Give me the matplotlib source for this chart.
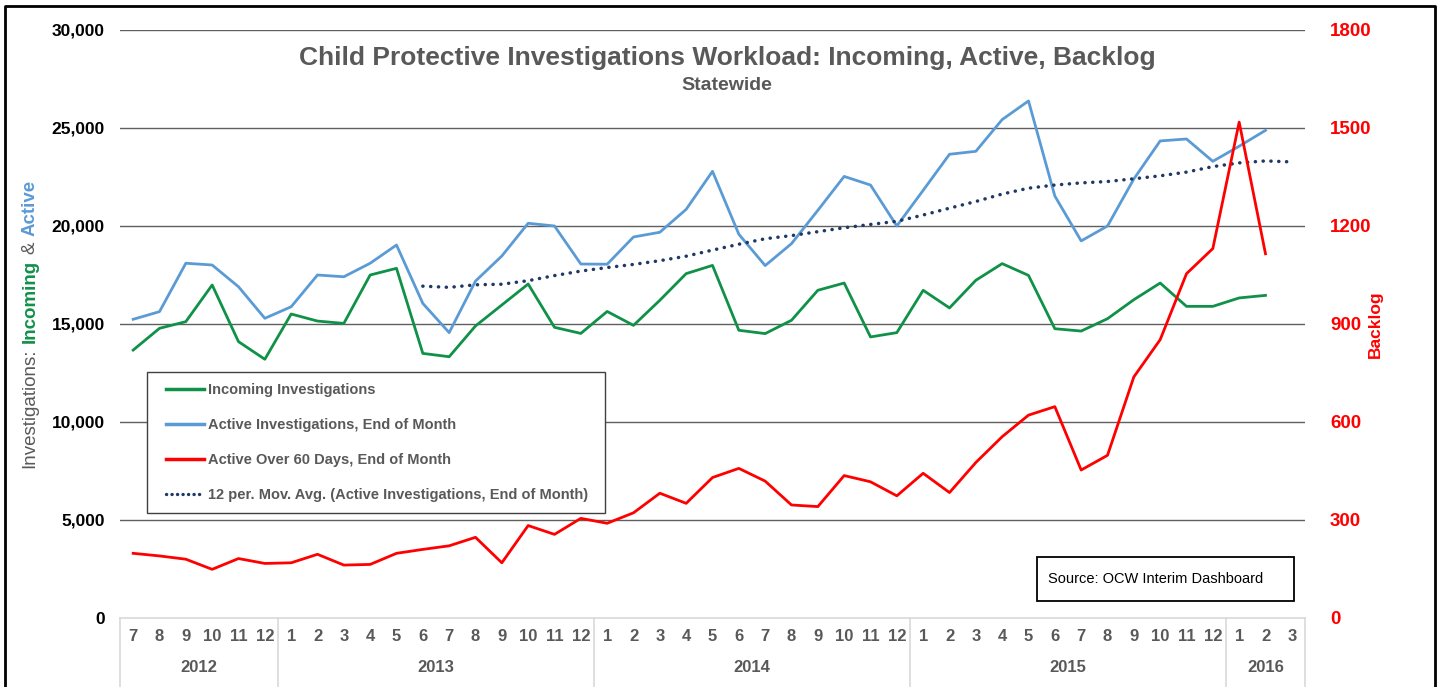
import matplotlib
matplotlib.use('Agg')
import numpy as np
import matplotlib.pyplot as plt
from matplotlib.lines import Line2D
from matplotlib.patches import Rectangle
from matplotlib.legend_handler import HandlerLine2D
import matplotlib.transforms as mtransforms
from matplotlib.ticker import FuncFormatter

plt.rcParams['font.family'] = ['Liberation Sans', 'DejaVu Sans']

# ---------------- data ----------------
years = ['2012', '2013', '2014', '2015', '2016']
months_per_year = [6, 12, 12, 12, 3]
months = [7, 8, 9, 10, 11, 12] + list(range(1, 13)) * 3 + [1, 2, 3]

incoming = [13670, 14780, 15120, 16990, 14100, 13200,
            15510, 15150, 15030, 17500, 17840, 13500, 13330, 14900, 15970, 17040, 14830, 14520,
            15640, 14930, 16210, 17570, 17990, 14680, 14510, 15190, 16720, 17090, 14340, 14560,
            16720, 15820, 17230, 18080, 17480, 14760, 14640, 15270, 16240, 17090, 15900, 15900,
            16330, 16460]

active = [15240, 15630, 18100, 18010, 16900, 15290,
          15880, 17500, 17410, 18100, 19030, 16050, 14560, 17190, 18470, 20140, 20000, 18060,
          18050, 19440, 19680, 20850, 22790, 19580, 17980, 19100, 20800, 22530, 22090, 20000,
          21820, 23660, 23810, 25430, 26380, 21530, 19240, 20000, 22400, 24340, 24440, 23300,
          24070, 24880]

backlog = [198, 190, 180, 149, 182, 167,
           169, 195, 162, 164, 198, 210, 221, 247, 169, 283, 256, 305,
           290, 322, 382, 351, 430, 458, 419, 346, 341, 436, 417, 374,
           443, 384, 476, 555, 621, 647, 453, 498, 738, 852, 1054, 1131,
           1518, 1115]

# 12 per. moving average (starts at 2013-6, runs to 2016-3)
mov_avg_start = 11
mov_avg = [16930, 16870, 17000, 17030, 17210, 17470, 17700,
           17880, 18040, 18230, 18460, 18770, 19070, 19350, 19510, 19710, 19910, 20080, 20240,
           20560, 20910, 21250, 21630, 21930, 22090, 22200, 22270, 22410, 22560, 22750, 23030,
           23220, 23320, 23270]

legend_labels = ['Incoming Investigations',
                 'Active Investigations, End of Month',
                 'Active Over 60 Days, End of Month',
                 '12 per. Mov. Avg. (Active Investigations, End of Month)']

# ---------------- styling ----------------
GREEN = '#109148'
BLUE = '#5B9BD5'
RED = '#FF0000'
NAVY = '#1F3864'
GRAY = '#595959'
W, H = 1440, 687

fig = plt.figure(figsize=(W / 100, H / 100), dpi=100)
fig.patch.set_facecolor('white')

L, R, T, B = 120, 1305, 30, 618
ax = fig.add_axes([L / W, (H - B) / H, (R - L) / W, (B - T) / H])
ax2 = ax.twinx()

n = len(months)
x_all = list(range(n))

# left axis lines
ax.plot(x_all[:len(incoming)], incoming, color=GREEN, lw=2.0, zorder=3)
ax.plot(x_all[:len(active)], active, color=BLUE, lw=2.0, zorder=3)
ax.plot(x_all[mov_avg_start:mov_avg_start + len(mov_avg)], mov_avg, color=NAVY, lw=2.5,
        linestyle=(0, (0.05, 2.2)), dash_capstyle='round', zorder=4)
# right axis
ax2.plot(x_all[:len(backlog)], backlog, color=RED, lw=2.0, zorder=3)

ax.set_xlim(-0.5, n - 0.5)
ax.set_ylim(0, 30000)
ax2.set_ylim(0, 1800)
ax.set_yticks(range(0, 30001, 5000))
ax2.set_yticks(range(0, 1801, 300))
ax.yaxis.set_major_formatter(FuncFormatter(lambda v, p: f'{int(v):,}'))

for s in ax.spines.values():
    s.set_visible(False)
for s in ax2.spines.values():
    s.set_visible(False)
ax.spines['bottom'].set_visible(True)
ax.spines['bottom'].set_color('#d9d9d9')
ax.spines['bottom'].set_linewidth(1.2)

for v in range(5000, 30001, 5000):
    ax.axhline(v, color='#5f5f5f', lw=1.0, zorder=1)

ax.tick_params(axis='y', length=0, pad=11, labelsize=12.5, labelcolor='black')
for t in ax.get_yticklabels():
    t.set_fontweight('bold')
ax2.tick_params(axis='y', length=0, pad=18, labelsize=13.5, labelcolor=RED)
for t in ax2.get_yticklabels():
    t.set_fontweight('bold')

ax.set_xticks(x_all)
ax.set_xticklabels([str(m) for m in months], fontsize=12, fontweight='bold', color=GRAY)
ax.tick_params(axis='x', length=0, pad=8)

# year labels & separators
trans = mtransforms.blended_transform_factory(ax.transData, fig.transFigure)
pos = -0.5
bounds = [pos]
for yr, cnt in zip(years, months_per_year):
    center = pos + cnt / 2
    ax.text(center, (H - 668) / H, yr, transform=trans, ha='center', va='center',
            fontsize=12, fontweight='bold', color=GRAY)
    pos += cnt
    bounds.append(pos)
for b in bounds:
    fig.add_artist(Line2D([b, b], [(H - B) / H, 0], transform=trans, color='#d9d9d9', lw=1.2))


# legend
class ShiftedLineHandler(HandlerLine2D):
    LINE_PT = 38 * 72 / 100  # visible handle length in points

    def create_artists(self, legend, orig_handle, xdescent, ydescent, width, height,
                       fontsize, trans):
        arts = super().create_artists(legend, orig_handle, xdescent, ydescent, width, height,
                                      fontsize, trans)
        x1 = -xdescent + width
        x0 = x1 - self.LINE_PT
        for a in arts:
            xd = np.asarray(a.get_xdata())
            if len(xd) >= 2:
                a.set_xdata(np.linspace(x0, x1, len(xd)))
        return arts


handles = [Line2D([], [], color=GREEN, lw=2.5),
           Line2D([], [], color=BLUE, lw=2.5),
           Line2D([], [], color=RED, lw=2.5),
           Line2D([], [], color=NAVY, lw=2.4, linestyle=(0, (0.05, 1.6)), dash_capstyle='round')]
leg = ax2.legend(handles, legend_labels, loc='upper left',
                 bbox_to_anchor=((147 - L) / (R - L), (B - 515) / (B - T),
                                 (605 - 147) / (R - L), (515 - 372) / (B - T)),
                 mode='expand', fancybox=False, framealpha=1, edgecolor='#404040',
                 prop={'size': 10.5, 'weight': 'bold'}, labelspacing=1.45, borderpad=0.75,
                 handlelength=3.15, handletextpad=0.3, borderaxespad=0,
                 handler_map={Line2D: ShiftedLineHandler()})
leg.get_frame().set_linewidth(1.0)
for t in leg.get_texts():
    t.set_color(GRAY)
leg.set_zorder(10)

# titles
fig.text(727 / W, (H - 58) / H, 'Child Protective Investigations Workload: Incoming, Active, Backlog',
         ha='center', va='center', fontsize=19, fontweight='bold', color=GRAY)
fig.text(727 / W, (H - 86) / H, 'Statewide', ha='center', va='center',
         fontsize=14, fontweight='bold', color=GRAY)

# right axis label
fig.text(1375 / W, (H - 324) / H, 'Backlog', rotation=90, ha='center', va='center',
         fontsize=12.5, fontweight='bold', color=RED)

# left multi-color label
parts = [('Investigations:', GRAY, 'normal'), ('Incoming', GREEN, 'bold'),
         ('&', GRAY, 'normal'), ('Active', BLUE, 'bold')]
fig.canvas.draw()
rend = fig.canvas.get_renderer()
fs_lab = 13.5
objs = []
for s, c, wgt in parts:
    objs.append(fig.text(0, 0, s, rotation=90, ha='center', va='center',
                         fontsize=fs_lab, fontweight=wgt, color=c))
lens = [o.get_window_extent(rend).height for o in objs]
gap = fs_lab * 100 / 72 * 0.3
total = sum(lens) + gap * (len(lens) - 1)
ycur = (H - 324) - total / 2
for o, ln in zip(objs, lens):
    o.set_position((30 / W, (ycur + ln / 2) / H))
    ycur += ln + gap

# source box
fig.add_artist(Rectangle((1037 / W, (H - 601) / H), (1294 - 1037) / W, (601 - 557) / H,
                         transform=fig.transFigure, fill=True, facecolor='white',
                         edgecolor='black', lw=1.3, zorder=5))
fig.text(1048 / W, (H - 579) / H, 'Source: OCW Interim Dashboard', ha='left', va='center',
         fontsize=10.5, color='black', zorder=6)

# outer frame
fig.add_artist(Line2D([5 / W, 5 / W, 1435 / W, 1435 / W], [0, (H - 6) / H, (H - 6) / H, 0],
                      transform=fig.transFigure, color='black', lw=2))

fig.savefig('out.png', dpi=100, facecolor='white')
